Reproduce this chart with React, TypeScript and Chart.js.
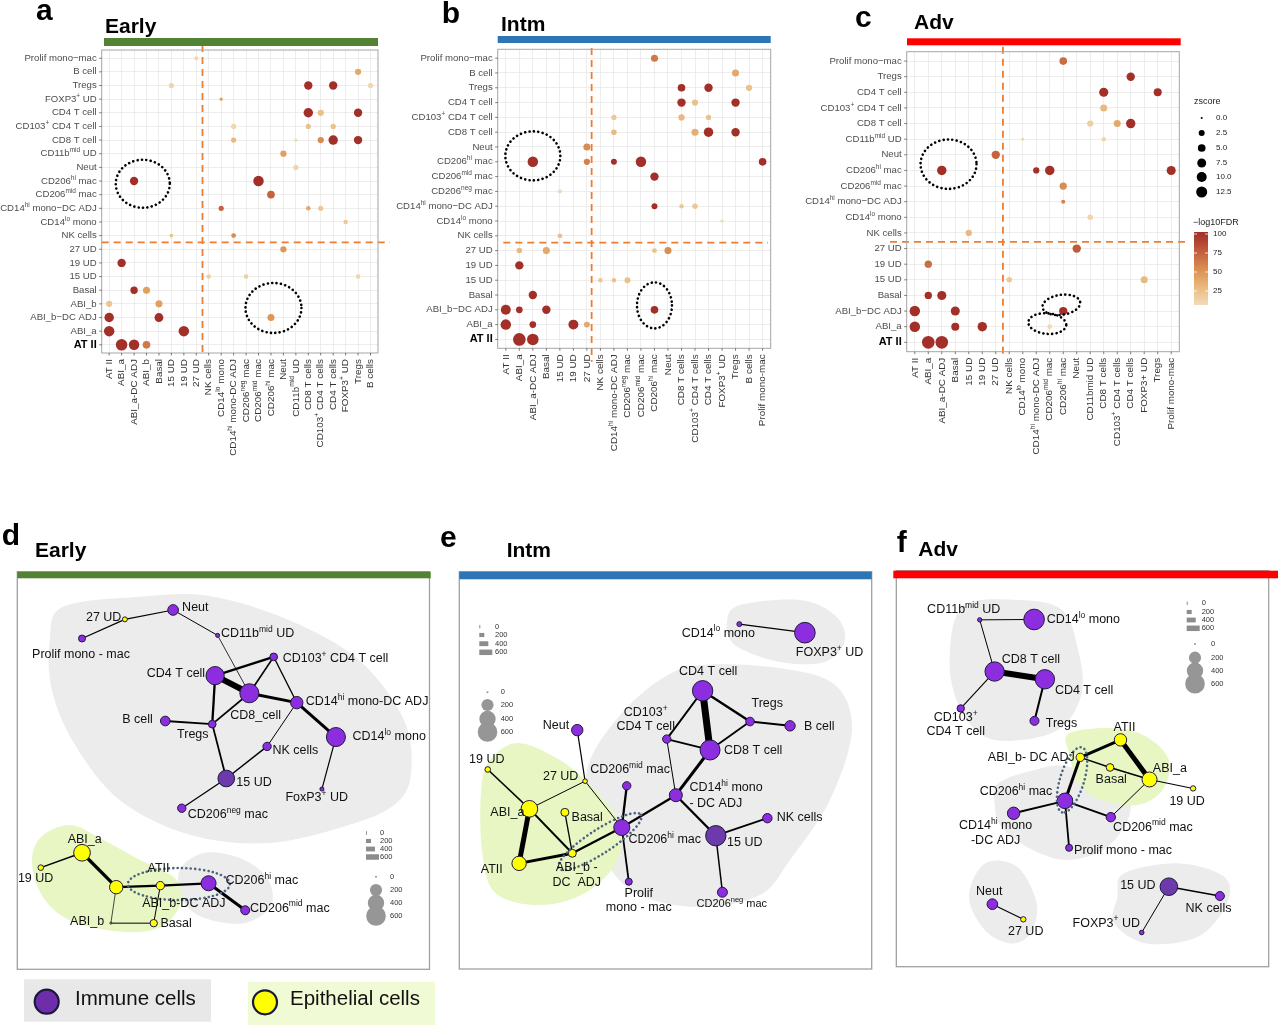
import React, { useEffect, useRef } from "react";
import { Chart, registerables } from "chart.js";

Chart.register(...registerables);

const FONT = '"Liberation Sans", Arial, Helvetica, sans-serif';
const ORANGE = "rgb(237,125,49)";
const GRID = "rgb(232,232,232)";
const PURPLE = "rgb(140,46,224)";
const PURPLE_DARK = "rgb(108,58,170)";
const YELLOW = "rgb(255,255,0)";
const BLOB_GRAY = "rgb(236,236,236)";
const BLOB_GREEN = "rgb(232,246,196)";
const BAR_GREEN = "rgb(84,130,53)";
const BAR_BLUE = "rgb(46,117,182)";
const BAR_RED = "rgb(255,0,0)";

// ---------------- dot plot data: [row, col, zscore, -log10FDR] ----------------
const aRows = ["Prolif mono\u2212mac", "B cell", "Tregs", "FOXP3^{+} UD", "CD4 T cell", "CD103^{+} CD4 T cell", "CD8 T cell", "CD11b^{mid} UD", "Neut", "CD206^{hi} mac", "CD206^{mid} mac", "CD14^{hi} mono\u2212DC ADJ", "CD14^{lo} mono", "NK cells", "27 UD", "19 UD", "15 UD", "Basal", "ABI_b", "ABI_b\u2212DC ADJ", "ABI_a", "AT II"];
const aCols = ["AT II", "ABI_a", "ABI_a-DC ADJ", "ABI_b", "Basal", "15 UD", "19 UD", "27 UD", "NK cells", "CD14^{lo} mono", "CD14^{hi} mono-DC ADJ", "CD206^{neg} mac", "CD206^{mid} mac", "CD206^{hi} mac", "Neut", "CD11b^{mid} UD", "CD8 T cells", "CD103^{+} CD4 T cells", "CD4 T cells", "FOXP3^{+} UD", "Tregs", "B cells"];
const aDots = [
  [0, 7, 0.6, 10], [1, 20, 2.5, 40],
  [2, 5, 1.4, 12], [2, 16, 5.6, 100], [2, 18, 5.6, 100], [2, 21, 1.4, 10],
  [3, 9, 0.2, 45],
  [4, 16, 7.6, 100], [4, 17, 2.5, 25], [4, 20, 5.6, 100],
  [5, 10, 1.4, 10], [5, 16, 1.4, 25], [5, 18, 1.4, 25],
  [6, 10, 1.4, 30], [6, 15, 0.2, 8], [6, 17, 2.5, 55], [6, 18, 7.6, 100], [6, 20, 5.6, 100],
  [7, 14, 2.5, 45], [8, 15, 1.4, 12],
  [9, 2, 5.6, 100], [9, 12, 9.9, 100],
  [10, 13, 4.4, 75],
  [11, 9, 1.4, 75], [11, 16, 0.9, 40], [11, 17, 1.4, 20],
  [12, 19, 0.9, 20],
  [13, 5, 0.4, 25], [13, 10, 1.1, 55],
  [14, 14, 2.5, 50],
  [15, 1, 5.6, 100],
  [16, 8, 0.9, 15], [16, 11, 0.9, 15], [16, 20, 0.9, 12],
  [17, 2, 3.9, 100], [17, 3, 3.5, 45],
  [18, 0, 2.5, 22], [18, 4, 3.5, 45],
  [19, 0, 7.6, 100], [19, 4, 6.4, 100], [19, 13, 3.5, 50],
  [20, 0, 9.9, 100], [20, 6, 9.9, 100],
  [21, 1, 12.6, 100], [21, 2, 9.9, 100], [21, 3, 4.4, 65],
];

const bRows = ["Prolif mono\u2212mac", "B cell", "Tregs", "CD4 T cell", "CD103^{+} CD4 T cell", "CD8 T cell", "Neut", "CD206^{hi} mac", "CD206^{mid} mac", "CD206^{neg} mac", "CD14^{hi} mono\u2212DC ADJ", "CD14^{lo} mono", "NK cells", "27 UD", "19 UD", "15 UD", "Basal", "ABI_b\u2212DC ADJ", "ABI_a", "AT II"];
const bCols = ["AT II", "ABI_a", "ABI_a-DC ADJ", "Basal", "15 UD", "19 UD", "27 UD", "NK cells", "CD14^{hi} mono-DC ADJ", "CD206^{neg} mac", "CD206^{mid} mac", "CD206^{hi} mac", "Neut", "CD8 T cells", "CD103^{+} CD4 T cells", "CD4 T cells", "FOXP3^{+} UD", "Tregs", "B cells", "Prolif mono-mac"];
const bDots = [
  [0, 11, 3.5, 65], [1, 17, 3.5, 40],
  [2, 13, 4.4, 100], [2, 15, 5.6, 100], [2, 18, 2.5, 25],
  [3, 13, 5.6, 100], [3, 14, 2.5, 25], [3, 17, 5.6, 100],
  [4, 8, 1.4, 20], [4, 13, 2.5, 30], [4, 15, 1.4, 25],
  [5, 8, 1.7, 30], [5, 14, 3.5, 35], [5, 15, 7.6, 100], [5, 17, 5.6, 100],
  [6, 6, 3.5, 55],
  [7, 2, 9.9, 100], [7, 6, 2.5, 60], [7, 8, 2.1, 100], [7, 10, 9.9, 100], [7, 19, 4.4, 100],
  [8, 11, 5.6, 100], [9, 4, 0.6, 8],
  [10, 11, 2.1, 100], [10, 13, 0.9, 20], [10, 14, 1.7, 20],
  [11, 16, 0.2, 8], [12, 4, 1.1, 25],
  [13, 1, 1.7, 30], [13, 3, 3.5, 40], [13, 11, 1.1, 25], [13, 12, 3.5, 55],
  [14, 1, 5.6, 100],
  [15, 7, 0.9, 20], [15, 8, 0.9, 25], [15, 9, 2.1, 25],
  [16, 2, 5.6, 100],
  [17, 0, 8.6, 100], [17, 1, 3.0, 100], [17, 3, 5.6, 100], [17, 11, 4.4, 100],
  [18, 0, 9.9, 100], [18, 2, 3.0, 100], [18, 5, 8.6, 100], [18, 6, 2.1, 40],
  [19, 1, 15.5, 100], [19, 2, 12.6, 100],
];

const cRows = ["Prolif mono\u2212mac", "Tregs", "CD4 T cell", "CD103^{+} CD4 T cell", "CD8 T cell", "CD11b^{mid} UD", "Neut", "CD206^{hi} mac", "CD206^{mid} mac", "CD14^{hi} mono\u2212DC ADJ", "CD14^{lo} mono", "NK cells", "27 UD", "19 UD", "15 UD", "Basal", "ABI_b\u2212DC ADJ", "ABI_a", "AT II"];
const cCols = ["AT II", "ABI_a", "ABI_a-DC ADJ", "Basal", "15 UD", "19 UD", "27 UD", "NK cells", "CD14^{lo} mono", "CD14^{hi} mono-DC ADJ", "CD206^{mid} mac", "CD206^{hi} mac", "Neut", "CD11bmid UD", "CD8 T cells", "CD103^{+} CD4 T cells", "CD4 T cells", "FOXP3+ UD", "Tregs", "Prolif mono-mac"];
const cDots = [
  [0, 11, 4.4, 70], [1, 16, 5.6, 100],
  [2, 14, 6.9, 100], [2, 18, 5.0, 100],
  [3, 14, 3.5, 30],
  [4, 13, 2.5, 15], [4, 15, 3.5, 40], [4, 16, 7.6, 100],
  [5, 8, 0.2, 10], [5, 14, 0.9, 12],
  [6, 6, 5.6, 75],
  [7, 2, 7.6, 100], [7, 9, 2.5, 100], [7, 10, 7.6, 100], [7, 19, 6.9, 100],
  [8, 11, 3.9, 55], [9, 11, 0.6, 60], [10, 13, 1.7, 12], [11, 4, 2.5, 30],
  [12, 12, 5.6, 80], [13, 1, 3.9, 70],
  [14, 7, 1.7, 20], [14, 17, 3.5, 30],
  [15, 1, 3.9, 100], [15, 2, 6.9, 100],
  [16, 0, 9.9, 100], [16, 3, 6.9, 100], [16, 11, 5.6, 100],
  [17, 0, 9.9, 100], [17, 3, 5.0, 100], [17, 5, 7.6, 100], [17, 10, 1.1, 8],
  [18, 1, 15.5, 100], [18, 2, 15.5, 100],
];

const zLegend = [0, 2.5, 5, 7.5, 10, 12.5];
const fdrLegend = [100, 75, 50, 25];

// ---------------- network data: [id, label, x, y, size, kind] ----------------
const dNodes = [
  ["UD27", "27 UD", 26.1, 10.5, 17, "E"],
  ["Neut", "Neut", 37.8, 8.1, 145, "I"],
  ["Prolif", "Prolif mono - mac", 15.7, 15.4, 48, "I"],
  ["CD11b", "CD11b^{mid} UD", 48.6, 14.6, 8, "I"],
  ["CD103", "CD103^{+} CD4 T cell", 62.2, 20.1, 62, "I"],
  ["CD4", "CD4 T cell", 48.0, 24.9, 510, "I"],
  ["CD8", "CD8_cell", 56.3, 29.4, 560, "I"],
  ["CD14hi", "CD14^{hi} mono-DC ADJ", 67.8, 31.8, 208, "I"],
  ["Bcell", "B cell", 35.9, 36.5, 113, "I"],
  ["Tregs", "Tregs", 47.3, 37.3, 62, "I"],
  ["CD14lo", "CD14^{lo} mono", 77.3, 40.6, 560, "I"],
  ["NK", "NK cells", 60.6, 43.0, 78, "I"],
  ["UD15", "15 UD", 50.7, 51.2, 415, "I"],
  ["FOXP3", "FoxP3^{+} UD", 73.9, 53.9, 8, "I"],
  ["CD206neg", "CD206^{neg} mac", 39.9, 58.8, 78, "I"],
  ["ABIa", "ABI_a", 15.7, 70.2, 415, "E"],
  ["UD19", "19 UD", 5.7, 74.0, 25, "E"],
  ["ATII", "ATII", 24.0, 79.0, 250, "E"],
  ["ABIbDC", "ABI_b-DC ADJ", 34.7, 78.6, 78, "E"],
  ["CD206hi", "CD206^{hi} mac", 46.4, 78.0, 326, "I"],
  ["CD206mid", "CD206^{mid} mac", 55.3, 84.9, 95, "I"],
  ["ABIb", "ABI_b", 22.7, 88.2, 0, "E"],
  ["Basal", "Basal", 33.1, 88.2, 56, "E"],
];
const dEdges = [
  ["UD27", "Prolif", 70], ["UD27", "Neut", 70], ["Neut", "CD11b", 50], ["CD11b", "CD8", 30],
  ["CD4", "CD8", 550], ["CD4", "CD103", 200], ["CD103", "CD8", 120], ["CD103", "CD14hi", 70],
  ["CD8", "CD14hi", 250], ["CD4", "Tregs", 180], ["CD8", "Tregs", 120], ["Bcell", "Tregs", 130],
  ["Tregs", "UD15", 130], ["CD14hi", "NK", 50], ["NK", "UD15", 100], ["CD14hi", "CD14lo", 250],
  ["CD14lo", "FOXP3", 70], ["UD15", "CD206neg", 80], ["ABIa", "UD19", 100], ["ABIa", "ATII", 280],
  ["ATII", "ABIbDC", 180], ["ABIbDC", "CD206hi", 180], ["CD206hi", "CD206mid", 250],
  ["ATII", "ABIb", 20], ["ABIb", "Basal", 50], ["ABIbDC", "Basal", 50],
];

const eNodes = [
  ["CD14lo", "CD14^{lo} mono", 67.9, 11.5, 17, "I"],
  ["FOXP3", "FOXP3^{+} UD", 83.8, 13.7, 670, "I"],
  ["CD4", "CD4 T cell", 59.0, 28.6, 650, "I"],
  ["Tregs", "Tregs", 70.5, 36.5, 85, "I"],
  ["Bcell", "B cell", 80.2, 37.6, 135, "I"],
  ["CD103", "CD103^{+}\nCD4 T cell", 50.3, 41.0, 78, "I"],
  ["CD8", "CD8 T cell", 60.8, 43.8, 625, "I"],
  ["Neut", "Neut", 28.6, 38.7, 170, "I"],
  ["UD19", "19 UD", 6.9, 48.8, 25, "E"],
  ["UD27", "27 UD", 30.5, 51.8, 13, "E"],
  ["CD206mid", "CD206^{mid} mac", 40.6, 53.0, 78, "I"],
  ["CD14hi", "CD14^{hi} mono\n- DC ADJ", 52.5, 55.4, 233, "I"],
  ["ABIa", "ABI_a", 17.0, 58.9, 415, "E"],
  ["Basal", "Basal", 25.6, 59.8, 69, "E"],
  ["NK", "NK cells", 74.7, 61.3, 105, "I"],
  ["CD206hi", "CD206^{hi} mac", 39.4, 63.7, 380, "I"],
  ["UD15", "15 UD", 62.2, 65.8, 650, "I"],
  ["ABIbDC", "ABI_b -\nDC  ADJ", 27.4, 70.3, 69, "E"],
  ["ATII", "ATII", 14.5, 72.9, 295, "E"],
  ["Prolif", "Prolif\nmono - mac", 41.1, 77.6, 48, "I"],
  ["CD206neg", "CD206^{neg} mac", 63.8, 80.3, 123, "I"],
];
const eEdges = [
  ["CD14lo", "FOXP3", 70], ["CD4", "CD8", 650], ["CD4", "CD103", 150], ["CD4", "Tregs", 200],
  ["Tregs", "Bcell", 150], ["Tregs", "CD8", 130], ["CD103", "CD8", 130], ["CD103", "CD14hi", 50],
  ["CD8", "CD14hi", 250], ["Neut", "UD27", 70], ["UD27", "ABIa", 50], ["UD27", "CD206hi", 50],
  ["UD19", "ABIa", 100], ["ABIa", "ATII", 450], ["ABIa", "ABIbDC", 150], ["ATII", "ABIbDC", 250],
  ["Basal", "ABIbDC", 80], ["ABIbDC", "CD206hi", 180], ["CD206hi", "CD206mid", 180],
  ["CD206hi", "CD14hi", 180], ["CD206hi", "Prolif", 130], ["CD14hi", "UD15", 180],
  ["UD15", "NK", 130], ["UD15", "CD206neg", 100],
];

const fNodes = [
  ["CD11b", "CD11b^{mid} UD", 22.4, 10.7, 11, "I"],
  ["CD14lo", "CD14^{lo} mono", 37.0, 10.6, 670, "I"],
  ["CD8", "CD8 T cell", 26.4, 24.0, 580, "I"],
  ["CD4", "CD4 T cell", 39.9, 26.0, 580, "I"],
  ["CD103", "CD103^{+}\nCD4 T cell", 17.3, 33.5, 56, "I"],
  ["Tregs", "Tregs", 37.1, 36.7, 95, "I"],
  ["ATII", "ATII", 60.2, 41.6, 208, "E"],
  ["ABIbDC", "ABI_b- DC ADJ", 49.4, 46.1, 78, "E"],
  ["Basal", "Basal", 57.4, 48.7, 62, "E"],
  ["ABIa", "ABI_a", 68.0, 51.8, 326, "E"],
  ["UD19", "19 UD", 79.7, 54.1, 22, "E"],
  ["CD206hi", "CD206^{hi} mac", 45.3, 57.3, 357, "I"],
  ["CD14hi", "CD14^{hi} mono\n-DC ADJ", 31.5, 60.5, 208, "I"],
  ["CD206mid", "CD206^{mid} mac", 57.6, 61.5, 105, "I"],
  ["Prolif", "Prolif mono - mac", 46.4, 69.4, 48, "I"],
  ["Neut", "Neut", 25.8, 83.9, 145, "I"],
  ["UD27", "27 UD", 34.1, 87.8, 22, "E"],
  ["UD15", "15 UD", 73.2, 79.4, 470, "I"],
  ["NK", "NK cells", 86.9, 81.8, 95, "I"],
  ["FOXP3", "FOXP3^{+} UD", 65.9, 91.2, 13, "I"],
];
const fEdges = [
  ["CD11b", "CD14lo", 50], ["CD11b", "CD8", 50], ["CD8", "CD4", 550], ["CD8", "CD103", 60],
  ["CD4", "Tregs", 150], ["ATII", "ABIbDC", 250], ["ATII", "ABIa", 450], ["ABIbDC", "Basal", 100],
  ["Basal", "ABIa", 100], ["ABIbDC", "CD206hi", 250], ["ABIa", "UD19", 60], ["ABIa", "CD206mid", 50],
  ["CD206hi", "CD14hi", 150], ["CD206hi", "CD206mid", 150], ["CD206hi", "Prolif", 130],
  ["Neut", "UD27", 60], ["UD15", "NK", 100], ["UD15", "FOXP3", 50],
];

const sizeLegend = [0, 200, 400, 600];

// cluster hulls (layout units)
const dHullImmune = [[11.1, 7.3], [29.7, 4.7], [46.6, 4.5], [66.0, 10.7], [82.9, 20.9], [93.8, 36.2], [95.5, 50.3], [91.4, 58.0], [80.5, 63.1], [61.1, 67.7], [41.8, 65.6], [24.8, 56.7], [14.0, 42.6], [8.4, 28.6], [7.9, 15.8]];
const dHullMac = [[39.4, 74.6], [45.4, 70.2], [53.9, 71.5], [60.6, 76.6], [61.6, 83.6], [55.1, 88.2], [45.4, 86.9], [40.1, 82.3]];
const dHullEpi = [[12.7, 63.1], [20.0, 66.4], [29.7, 72.0], [38.1, 76.6], [39.8, 82.3], [35.7, 88.7], [27.3, 90.5], [14.0, 88.0], [6.7, 82.3], [3.6, 73.3], [5.5, 66.4]];
const eHullMono = [[68.1, 6.6], [82.6, 5.3], [91.1, 9.2], [93.5, 15.6], [88.7, 21.2], [77.8, 21.2], [66.9, 16.9], [64.9, 11.0]];
const eHullImmune = [[58.4, 22.0], [77.8, 22.8], [91.1, 27.1], [95.2, 38.7], [89.9, 56.6], [80.2, 72.0], [72.9, 81.0], [58.4, 84.1], [43.8, 81.0], [35.3, 72.0], [31.2, 56.6], [31.7, 46.4], [39.0, 34.8], [48.7, 25.8]];
const eHullEpi = [[14.2, 42.0], [24.4, 46.4], [32.9, 54.1], [39.0, 63.0], [38.2, 72.5], [30.5, 80.5], [19.6, 83.6], [8.7, 80.5], [5.5, 69.5], [5.3, 54.1], [7.4, 46.4]];
const fHullT = [[17.8, 7.3], [32.5, 5.6], [44.6, 8.2], [49.0, 19.2], [49.8, 29.5], [44.6, 38.2], [34.2, 41.6], [23.8, 40.8], [16.9, 33.1], [14.3, 21.0]];
const fHullEpi = [[46.4, 39.9], [58.5, 38.6], [67.2, 40.8], [73.2, 46.8], [71.5, 54.5], [64.6, 58.4], [55.0, 57.1], [49.0, 52.8], [46.4, 45.1]];
const fHullMac = [[27.3, 52.8], [36.8, 49.4], [46.4, 48.5], [60.2, 54.5], [62.8, 60.5], [56.8, 69.1], [46.4, 72.5], [36.8, 70.0], [28.2, 64.0], [26.4, 57.9]];
const fHullNeut = [[23.8, 73.4], [32.5, 74.3], [37.7, 83.7], [36.0, 91.4], [30.8, 94.0], [23.8, 90.6], [19.5, 82.0]];
const fHullNK = [[61.1, 76.0], [75.8, 73.4], [88.0, 76.8], [88.8, 83.7], [81.0, 92.3], [67.2, 94.0], [58.5, 88.8], [59.4, 82.0]];

// ---------------- label placement (style) ----------------
const dLabelPos = {
  UD27: [-3.5, -1.5, "r"], Neut: [9, -2, "l"], Prolif: [-1, 15.7, "c"], CD11b: [3.4, -1.6, "l"],
  CD103: [9, 1.7, "l"], CD4: [-10, -2.4, "r"], CD8: [6.3, 22.7, "c"], CD14hi: [9, -1, "l"],
  Bcell: [-12.4, -1, "r"], Tregs: [-3.7, 10.3, "r"], CD14lo: [16.6, 0, "l"], NK: [5.3, 4.4, "l"],
  UD15: [10, 4.4, "l"], FOXP3: [-5.2, 8.7, "c"], CD206neg: [6, 6.7, "l"], ABIa: [2.7, -13.4, "c"],
  UD19: [-5.2, 11.3, "c"], ATII: [42.3, -18.3, "c"], ABIbDC: [23.5, 17.6, "c"], CD206hi: [17, -2.3, "l"],
  CD206mid: [4.7, -2, "l"], ABIb: [-6.7, -1.6, "r"], Basal: [6.7, 0.7, "l"],
};
const eLabelPos = {
  CD14lo: [-21, 9, "c"], FOXP3: [24.7, 20, "c"], CD4: [5.6, -19, "c"], Tregs: [17.2, -17.7, "c"],
  Bcell: [14, 0.7, "l"], CD103: [-21, -26.7, "c", 14.4], CD8: [14, 0.7, "l"], Neut: [-8, -4.3, "r"],
  UD19: [-1, -10, "c"], UD27: [-6.7, -5, "r"], CD206mid: [3.3, -16, "c"], CD14hi: [13.6, -7.7, "l", 16],
  ABIa: [-5, 3.7, "r"], Basal: [6.7, 5.4, "l"], NK: [9.4, -0.6, "l"], CD206hi: [6.6, 12.3, "l"],
  UD15: [11.3, 7, "l"], ABIbDC: [4.4, 14, "c", 15.4], ATII: [-16.3, 5.7, "r"], Prolif: [10, 11.6, "c", 14],
  CD206neg: [9.4, 11.7, "c", 14, 11],
};
const fLabelPos = {
  CD11b: [-16, -10, "c"], CD14lo: [12.6, 0, "l"], CD8: [36.3, -12.4, "c"], CD4: [10, 11.4, "l"],
  CD103: [-5, 9, "c", 14.4], Tregs: [11.3, 2.3, "l"], ATII: [4, -12.7, "c"], ABIbDC: [-5.6, 0, "r"],
  Basal: [1.2, 12, "c"], ABIa: [3.3, -11, "l"], UD19: [-6, 12.7, "c"], CD206hi: [-12.7, -9, "r"],
  CD14hi: [-18, 12.4, "c", 15.3], CD206mid: [2.3, 10, "l"], Prolif: [5, 2.3, "l"], Neut: [-3.2, -12.6, "c"],
  UD27: [2.4, 12.4, "c"], UD15: [-13.3, -0.7, "r"], NK: [-11.4, 12.3, "c"], FOXP3: [-1.7, -9.4, "r"],
};

// ---------------- helpers ----------------
const FDR_STOPS = [[0, 243, 229, 203], [25, 235, 193, 138], [50, 222, 151, 86], [75, 197, 99, 62], [100, 163, 47, 41]];
function fdrColor(v: number) {
  const t = Math.max(0, Math.min(100, v));
  for (let i = 1; i < FDR_STOPS.length; i++) {
    const a = FDR_STOPS[i - 1], b = FDR_STOPS[i];
    if (t <= b[0]) {
      const k = (t - a[0]) / (b[0] - a[0]);
      return `rgb(${Math.round(a[1] + (b[1] - a[1]) * k)},${Math.round(a[2] + (b[2] - a[2]) * k)},${Math.round(a[3] + (b[3] - a[3]) * k)})`;
    }
  }
  return "rgb(163,47,41)";
}
const zRadius = (z: number) => 1 + 1.35 * Math.sqrt(z);
const nRadius = (v: number) => 1 + 0.36 * Math.sqrt(v);
const eWidth = (v: number) => 0.5 + v / 100;

function richSegs(text: string) {
  const out: { t: string; sup: boolean }[] = [];
  const re = /\^\{([^}]*)\}/g;
  let last = 0;
  let m;
  while ((m = re.exec(text))) {
    if (m.index > last) out.push({ t: text.slice(last, m.index), sup: false });
    out.push({ t: m[1], sup: true });
    last = m.index + m[0].length;
  }
  if (last < text.length) out.push({ t: text.slice(last), sup: false });
  return out;
}
function drawRich(ctx: any, text: string, x: number, y: number, size: number, align: string, color = "#111", bold = false) {
  const segs = richSegs(text);
  const f = (s: number) => `${bold ? "bold " : ""}${s}px ${FONT}`;
  let total = 0;
  const ws = segs.map((sg) => {
    ctx.font = f(sg.sup ? size * 0.68 : size);
    const w = ctx.measureText(sg.t).width;
    total += w;
    return w;
  });
  let cx = align === "l" ? x : align === "r" ? x - total : x - total / 2;
  ctx.fillStyle = color;
  ctx.textAlign = "left";
  ctx.textBaseline = "middle";
  segs.forEach((sg, i) => {
    ctx.font = f(sg.sup ? size * 0.68 : size);
    ctx.fillText(sg.t, cx, sg.sup ? y - size * 0.33 : y);
    cx += ws[i];
  });
}
function drawHeader(ctx: any, h: any, ox: number, oy: number) {
  ctx.save();
  ctx.fillStyle = h.bar;
  ctx.fillRect(h.barL - ox, h.barT - oy, h.barR - h.barL, h.barB - h.barT);
  ctx.fillStyle = "#000";
  ctx.textAlign = "left";
  ctx.textBaseline = "alphabetic";
  ctx.font = `bold 30px ${FONT}`;
  ctx.fillText(h.letter, h.lx - ox, h.ly - oy);
  ctx.font = `bold 21px ${FONT}`;
  ctx.fillText(h.title, h.tx - ox, h.ty - oy);
  ctx.restore();
}
function dottedEllipse(ctx: any, cx: number, cy: number, rx: number, ry: number, rot: number, color: string) {
  ctx.save();
  ctx.strokeStyle = color;
  ctx.lineWidth = 2.6;
  ctx.lineCap = "round";
  ctx.setLineDash([0.1, 4.3]);
  ctx.beginPath();
  ctx.ellipse(cx, cy, rx, ry, (rot * Math.PI) / 180, 0, Math.PI * 2);
  ctx.stroke();
  ctx.restore();
}
function smoothBlob(ctx: any, pts: number[][]) {
  const n = pts.length;
  ctx.beginPath();
  ctx.moveTo(pts[0][0], pts[0][1]);
  for (let i = 0; i < n; i++) {
    const p0 = pts[(i - 1 + n) % n], p1 = pts[i], p2 = pts[(i + 1) % n], p3 = pts[(i + 2) % n];
    ctx.bezierCurveTo(
      p1[0] + (p2[0] - p0[0]) / 6, p1[1] + (p2[1] - p0[1]) / 6,
      p2[0] - (p3[0] - p1[0]) / 6, p2[1] - (p3[1] - p1[1]) / 6,
      p2[0], p2[1]
    );
  }
  ctx.closePath();
  ctx.fill();
}
function padding(rect: any, area: any) {
  return { left: area.l - rect.x, top: area.t - rect.y, right: rect.x + rect.w - area.r, bottom: rect.y + rect.h - area.b };
}

// ---------------- configs ----------------
const A_CFG = {
  rect: { x: 0, y: 0, w: 395, h: 480 }, area: { l: 101.7, t: 50, r: 378, b: 353 },
  rows: aRows, cols: aCols, dots: aDots,
  header: { letter: "a", lx: 36, ly: 20, title: "Early", tx: 105, ty: 33, bar: BAR_GREEN, barT: 38, barB: 46, barL: 104, barR: 378 },
  vx: 7.5, vy: [45, 355], hy: 13.5, hx: [101.7, 390],
  ellipses: [{ x: 2.7, y: 9.2, rx: 27, ry: 24, rot: 0 }, { x: 13.2, y: 18.3, rx: 28, ry: 25, rot: 0 }],
  legend: false,
};
const B_CFG = {
  rect: { x: 395, y: 0, w: 395, h: 480 }, area: { l: 497.7, t: 49.3, r: 770.7, b: 348.3 },
  rows: bRows, cols: bCols, dots: bDots,
  header: { letter: "b", lx: 441.7, ly: 23, title: "Intm", tx: 501, ty: 30.7, bar: BAR_BLUE, barT: 36, barB: 43, barL: 497.7, barR: 770.7 },
  vx: 6.35, vy: [48, 361.7], hy: 12.46, hx: [503.3, 768],
  ellipses: [{ x: 2.0, y: 6.6, rx: 27.5, ry: 24.5, rot: 0 }, { x: 11, y: 16.7, rx: 17.5, ry: 23, rot: 0 }],
  legend: false,
};
const C_CFG = {
  rect: { x: 790, y: 0, w: 490, h: 480 }, area: { l: 906.7, t: 51.7, r: 1179.3, b: 351.7 },
  rows: cRows, cols: cCols, dots: cDots,
  header: { letter: "c", lx: 855, ly: 26.7, title: "Adv", tx: 914, ty: 29.3, bar: BAR_RED, barT: 38.3, barB: 45.3, barL: 907, barR: 1180.7 },
  vx: 6.53, vy: [46.7, 355], hy: 11.57, hx: [890, 1185],
  ellipses: [
    { x: 2.5, y: 6.6, rx: 28, ry: 24.7, rot: 0 },
    { x: 10.86, y: 15.6, rx: 19, ry: 10, rot: -8 },
    { x: 9.82, y: 16.8, rx: 19, ry: 10.3, rot: 5 },
  ],
  legend: true,
};

const D_CFG = {
  rect: { x: 0, y: 480, w: 440, h: 550 }, area: { l: 17.3, t: 578.3, r: 430.7, b: 969.3 },
  header: { letter: "d", lx: 1.7, ly: 545, title: "Early", tx: 35, ty: 557, bar: BAR_GREEN, barT: 571.7, barB: 578.3, barL: 17.3, barR: 430.7 },
  nodes: dNodes, edges: dEdges, labels: dLabelPos,
  hulls: [[dHullImmune, BLOB_GRAY], [dHullMac, BLOB_GRAY], [dHullEpi, BLOB_GREEN]],
  ellipses: [{ x: 39.2, y: 78.2, rx: 51, ry: 16, rot: 0 }],
  legend: { ex: 366, ey: [833, 841, 849, 857], elx: 380, nx: 376, ny: [876.7, 890, 903, 916], nlx: 390 },
  cellLegend: true,
};
const E_CFG = {
  rect: { x: 440, y: 480, w: 445, h: 550 }, area: { l: 459.3, t: 579.3, r: 871.7, b: 969 },
  header: { letter: "e", lx: 440, ly: 546.7, title: "Intm", tx: 506.7, ty: 556.7, bar: BAR_BLUE, barT: 571.7, barB: 579.3, barL: 459.3, barR: 871.7 },
  nodes: eNodes, edges: eEdges, labels: eLabelPos,
  hulls: [[eHullMono, BLOB_GRAY], [eHullImmune, BLOB_GRAY], [eHullEpi, BLOB_GREEN]],
  ellipses: [{ x: 34.1, y: 67.3, rx: 49, ry: 12, rot: -33 }],
  legend: { ex: 479.3, ey: [626.7, 635, 643.7, 652.3], elx: 495, nx: 487.5, ny: [692.3, 705, 719, 732], nlx: 500.7 },
  cellLegend: false,
};
const F_CFG = {
  rect: { x: 885, y: 480, w: 395, h: 550 }, area: { l: 893.3, t: 578.3, r: 1278, b: 966.7 },
  header: { letter: "f", lx: 896.7, ly: 551.7, title: "Adv", tx: 918.3, ty: 556, bar: BAR_RED, barT: 570.7, barB: 578.3, barL: 893.3, barR: 1278 },
  nodes: fNodes, edges: fEdges, labels: fLabelPos,
  hulls: [[fHullT, BLOB_GRAY], [fHullMac, BLOB_GRAY], [fHullEpi, BLOB_GREEN], [fHullNeut, BLOB_GRAY], [fHullNK, BLOB_GRAY]],
  ellipses: [{ x: 47.2, y: 51.9, rx: 34, ry: 12, rot: 107 }],
  legend: { ex: 1186.7, ey: [603.3, 612, 620, 628.3], elx: 1201.7, nx: 1195, ny: [644, 657.7, 670.7, 683.7], nlx: 1211 },
  cellLegend: false,
};

// ---------------- components ----------------
function DotPlot({ cfg }: { cfg: any }) {
  const ref = useRef<HTMLCanvasElement>(null);
  useEffect(() => {
    const { rect, area, rows, cols, dots } = cfg;
    const ox = rect.x, oy = rect.y;
    const decor = {
      id: "dotDecor",
      beforeDatasetsDraw(chart: any) {
        const { ctx } = chart;
        const x = chart.scales.x, y = chart.scales.y;
        ctx.save();
        ctx.strokeStyle = ORANGE;
        ctx.lineWidth = 1.8;
        ctx.setLineDash([7, 5]);
        const px = x.getPixelForValue(cfg.vx);
        ctx.beginPath();
        ctx.moveTo(px, cfg.vy[0] - oy);
        ctx.lineTo(px, cfg.vy[1] - oy);
        ctx.stroke();
        const py = y.getPixelForValue(cfg.hy);
        ctx.beginPath();
        ctx.moveTo(cfg.hx[0] - ox, py);
        ctx.lineTo(cfg.hx[1] - ox, py);
        ctx.stroke();
        ctx.restore();
      },
      afterDraw(chart: any) {
        const { ctx, chartArea: ca } = chart;
        const x = chart.scales.x, y = chart.scales.y;
        ctx.save();
        ctx.strokeStyle = "rgb(165,165,165)";
        ctx.lineWidth = 1;
        ctx.strokeRect(ca.left, ca.top, ca.right - ca.left, ca.bottom - ca.top);
        ctx.strokeStyle = "#444";
        ctx.lineWidth = 0.7;
        rows.forEach((_: string, i: number) => {
          const py = y.getPixelForValue(i);
          ctx.beginPath();
          ctx.moveTo(ca.left - 2.5, py);
          ctx.lineTo(ca.left, py);
          ctx.stroke();
        });
        cols.forEach((_: string, i: number) => {
          const px = x.getPixelForValue(i);
          ctx.beginPath();
          ctx.moveTo(px, ca.bottom);
          ctx.lineTo(px, ca.bottom + 2.5);
          ctx.stroke();
        });
        rows.forEach((r: string, i: number) => {
          const py = y.getPixelForValue(i);
          if (r === "AT II") drawRich(ctx, r, ca.left - 5, py, 11, "r", "#000", true);
          else drawRich(ctx, r, ca.left - 5, py, 9.6, "r", "#4d4d4d");
        });
        cols.forEach((c: string, i: number) => {
          const px = x.getPixelForValue(i);
          ctx.save();
          ctx.translate(px, ca.bottom + 6);
          ctx.rotate(-Math.PI / 2);
          drawRich(ctx, c, 0, 0, 9.9, "r", "#333");
          ctx.restore();
        });
        cfg.ellipses.forEach((e: any) => {
          dottedEllipse(ctx, x.getPixelForValue(e.x), y.getPixelForValue(e.y), e.rx, e.ry, e.rot, "#000");
        });
        drawHeader(ctx, cfg.header, ox, oy);
        if (cfg.legend) {
          ctx.fillStyle = "#222";
          ctx.font = `9px ${FONT}`;
          ctx.textAlign = "left";
          ctx.textBaseline = "middle";
          ctx.fillText("zscore", 1194 - ox, 102 - oy);
          const ys = [118, 133, 148, 163, 177, 192];
          zLegend.forEach((z, i) => {
            ctx.fillStyle = "#000";
            ctx.beginPath();
            ctx.arc(1201.7 - ox, ys[i] - oy, 1 + 1.27 * Math.sqrt(z), 0, Math.PI * 2);
            ctx.fill();
            ctx.fillStyle = "#222";
            ctx.font = `8px ${FONT}`;
            ctx.fillText(z.toFixed(1), 1216 - ox, ys[i] - oy);
          });
          ctx.font = `9px ${FONT}`;
          ctx.fillText("\u2212log10FDR", 1193 - ox, 222.7 - oy);
          const top = 232, bot = 305;
          const g = ctx.createLinearGradient(0, top - oy, 0, bot - oy);
          for (let k = 0; k <= 10; k++) {
            const yy = top + ((bot - top) * k) / 10;
            g.addColorStop(k / 10, fdrColor(100 - (yy - 234) / 0.76));
          }
          ctx.fillStyle = g;
          ctx.fillRect(1194 - ox, top - oy, 14, bot - top);
          fdrLegend.forEach((v) => {
            const yy = 234 + (100 - v) * 0.76;
            ctx.strokeStyle = "#fff";
            ctx.lineWidth = 0.8;
            ctx.beginPath();
            ctx.moveTo(1194 - ox, yy - oy);
            ctx.lineTo(1197 - ox, yy - oy);
            ctx.moveTo(1205 - ox, yy - oy);
            ctx.lineTo(1208 - ox, yy - oy);
            ctx.stroke();
            ctx.fillStyle = "#222";
            ctx.font = `8px ${FONT}`;
            ctx.fillText(String(v), 1213 - ox, yy - oy);
          });
        }
        ctx.restore();
      },
    };
    const chart = new Chart(ref.current as HTMLCanvasElement, {
      type: "scatter",
      data: {
        datasets: [
          {
            data: dots.map((d: number[]) => ({ x: d[1], y: d[0] })),
            pointRadius: dots.map((d: number[]) => zRadius(d[2])),
            pointHoverRadius: dots.map((d: number[]) => zRadius(d[2])),
            pointBackgroundColor: dots.map((d: number[]) => fdrColor(d[3])),
            pointBorderWidth: 0,
            borderWidth: 0,
          },
        ],
      },
      options: {
        animation: false,
        responsive: false,
        events: [],
        layout: { padding: padding(rect, area) },
        plugins: { legend: { display: false }, tooltip: { enabled: false } },
        scales: {
          x: {
            type: "linear", min: -0.6, max: cols.length - 0.4,
            afterBuildTicks: (s: any) => { s.ticks = cols.map((_: string, i: number) => ({ value: i })); },
            ticks: { display: false },
            grid: { color: GRID, lineWidth: 0.8, drawTicks: false },
            border: { display: false },
          },
          y: {
            type: "linear", min: -0.6, max: rows.length - 0.4, reverse: true,
            afterBuildTicks: (s: any) => { s.ticks = rows.map((_: string, i: number) => ({ value: i })); },
            ticks: { display: false },
            grid: { color: GRID, lineWidth: 0.8, drawTicks: false },
            border: { display: false },
          },
        },
      } as any,
      plugins: [decor],
    });
    return () => chart.destroy();
  }, []);
  const r = cfg.rect;
  return <canvas ref={ref} width={r.w} height={r.h} style={{ position: "absolute", left: r.x, top: r.y }} />;
}

function NetPlot({ cfg }: { cfg: any }) {
  const ref = useRef<HTMLCanvasElement>(null);
  useEffect(() => {
    const { rect, area, nodes, edges } = cfg;
    const ox = rect.x, oy = rect.y;
    const byId: any = {};
    nodes.forEach((n: any[]) => { byId[n[0]] = n; });
    const nodeColor = (n: any[]) => (n[5] === "E" ? YELLOW : n[0] === "UD15" ? PURPLE_DARK : PURPLE);
    const edgeSets = edges.map((e: any[]) => ({
      data: [{ x: byId[e[0]][2], y: byId[e[0]][3] }, { x: byId[e[1]][2], y: byId[e[1]][3] }],
      showLine: true,
      borderColor: "#000",
      borderWidth: eWidth(e[2]),
      pointRadius: 0,
      pointHoverRadius: 0,
      order: 2,
    }));
    const nodeSet = {
      data: nodes.map((n: any[]) => ({ x: n[2], y: n[3] })),
      pointRadius: nodes.map((n: any[]) => nRadius(n[4])),
      pointHoverRadius: nodes.map((n: any[]) => nRadius(n[4])),
      pointBackgroundColor: nodes.map(nodeColor),
      pointBorderColor: "rgb(30,25,60)",
      pointBorderWidth: 1,
      showLine: false,
      order: 1,
    };
    const decor = {
      id: "netDecor",
      beforeDatasetsDraw(chart: any) {
        const { ctx } = chart;
        const x = chart.scales.x, y = chart.scales.y;
        ctx.save();
        cfg.hulls.forEach((h: any[]) => {
          ctx.fillStyle = h[1];
          smoothBlob(ctx, h[0].map((p: number[]) => [x.getPixelForValue(p[0]), y.getPixelForValue(p[1])]));
        });
        ctx.restore();
      },
      afterDraw(chart: any) {
        const { ctx, chartArea: ca } = chart;
        const x = chart.scales.x, y = chart.scales.y;
        ctx.save();
        cfg.ellipses.forEach((e: any) => {
          dottedEllipse(ctx, x.getPixelForValue(e.x), y.getPixelForValue(e.y), e.rx, e.ry, e.rot, "rgb(80,100,130)");
        });
        nodes.forEach((n: any[]) => {
          const lp = cfg.labels[n[0]];
          if (!lp) return;
          const px = x.getPixelForValue(n[2]), py = y.getPixelForValue(n[3]);
          const lines = String(n[1]).split("\n");
          const sp = lp[3] || 14.4;
          const size = lp[4] || 12.5;
          lines.forEach((ln, i) => drawRich(ctx, ln, px + lp[0], py + lp[1] + i * sp, size, lp[2], "#111"));
        });
        ctx.strokeStyle = "rgb(160,160,160)";
        ctx.lineWidth = 1.3;
        ctx.strokeRect(ca.left, cfg.header.barT - oy, ca.right - ca.left, ca.bottom - (cfg.header.barT - oy));
        drawHeader(ctx, cfg.header, ox, oy);
        const L = cfg.legend;
        ctx.textAlign = "left";
        ctx.textBaseline = "middle";
        sizeLegend.forEach((v, i) => {
          const w = 1 + v / 50, h = 3.5 + v / 300;
          ctx.fillStyle = "rgb(140,140,140)";
          ctx.fillRect(L.ex - ox, L.ey[i] - oy - h / 2, w, h);
          ctx.fillStyle = "#333";
          ctx.font = `7.5px ${FONT}`;
          ctx.fillText(String(v), L.elx - ox, L.ey[i] - oy);
        });
        sizeLegend.forEach((v, i) => {
          ctx.fillStyle = "rgb(150,150,150)";
          ctx.beginPath();
          ctx.arc(L.nx - ox, L.ny[i] - oy, nRadius(v), 0, Math.PI * 2);
          ctx.fill();
        });
        sizeLegend.forEach((v, i) => {
          ctx.fillStyle = "#333";
          ctx.font = `7.5px ${FONT}`;
          ctx.fillText(String(v), L.nlx - ox, L.ny[i] - oy);
        });
        if (cfg.cellLegend) {
          ctx.fillStyle = "rgb(232,232,232)";
          ctx.fillRect(24 - ox, 979.3 - oy, 187, 42.4);
          ctx.fillStyle = "rgb(240,250,212)";
          ctx.fillRect(248 - ox, 981.7 - oy, 187, 43.3);
          ctx.lineWidth = 2.2;
          ctx.strokeStyle = "rgb(25,25,60)";
          ctx.fillStyle = "rgb(110,45,170)";
          ctx.beginPath();
          ctx.arc(46.7 - ox, 1001.7 - oy, 12, 0, Math.PI * 2);
          ctx.fill();
          ctx.stroke();
          ctx.fillStyle = YELLOW;
          ctx.beginPath();
          ctx.arc(265 - ox, 1002.3 - oy, 12, 0, Math.PI * 2);
          ctx.fill();
          ctx.stroke();
          ctx.fillStyle = "#111";
          ctx.font = `20.5px ${FONT}`;
          ctx.textBaseline = "middle";
          ctx.fillText("Immune cells", 75 - ox, 999.5 - oy);
          ctx.fillText("Epithelial cells", 290 - ox, 999.5 - oy);
        }
        ctx.restore();
      },
    };
    const chart = new Chart(ref.current as HTMLCanvasElement, {
      type: "scatter",
      data: { datasets: [nodeSet, ...edgeSets] },
      options: {
        animation: false,
        responsive: false,
        events: [],
        layout: { padding: padding(rect, area) },
        plugins: { legend: { display: false }, tooltip: { enabled: false } },
        scales: {
          x: { type: "linear", min: 0, max: 100, display: false },
          y: { type: "linear", min: 0, max: 100, reverse: true, display: false },
        },
      } as any,
      plugins: [decor],
    });
    return () => chart.destroy();
  }, []);
  const r = cfg.rect;
  return <canvas ref={ref} width={r.w} height={r.h} style={{ position: "absolute", left: r.x, top: r.y }} />;
}

export default function App() {
  return (
    <div style={{ position: "absolute", left: 0, top: 0, width: 1280, height: 1030, background: "#fff", overflow: "hidden" }}>
      <DotPlot cfg={A_CFG} />
      <DotPlot cfg={B_CFG} />
      <DotPlot cfg={C_CFG} />
      <NetPlot cfg={D_CFG} />
      <NetPlot cfg={E_CFG} />
      <NetPlot cfg={F_CFG} />
    </div>
  );
}
